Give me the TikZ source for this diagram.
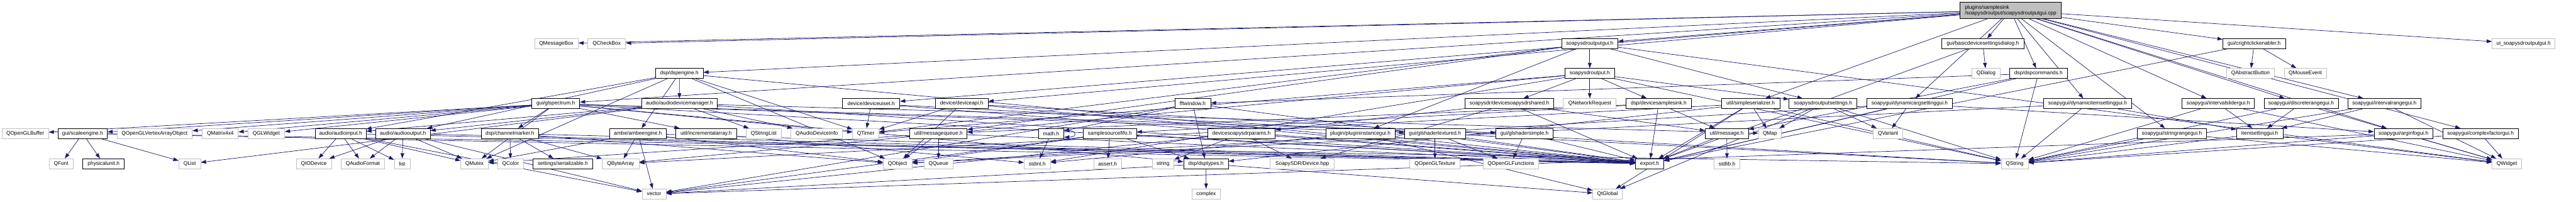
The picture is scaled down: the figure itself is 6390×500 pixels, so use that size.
\documentclass[tikz,border=0pt]{standalone}
\usepackage{fontspec}
\newfontfamily\dotfont{Liberation Sans}
\usetikzlibrary{arrows.meta,backgrounds}
\definecolor{edgeblue}{HTML}{191970}
\definecolor{extgray}{HTML}{BFBFBF}

\begin{document}
\begin{tikzpicture}[x=1pt,y=-1pt,
    hdr/.style={draw=black,fill=white,line width=1.1pt,minimum height=25pt,
      inner xsep=1pt,inner ysep=0pt,font=\dotfont\fontsize{13pt}{15pt}\selectfont},
    sys/.style={hdr,draw=extgray},
    inc/.style={edgeblue,line width=1.1pt,-{Triangle[length=13pt,width=9pt]}}]
    \useasboundingbox (0,0) rectangle (6390,500);

    % File itself
    \node[hdr,fill=extgray,align=left,minimum width=251pt,minimum height=40pt] (root) at (4987.5,26)
      {plugins/samplesink\\/soapysdroutput/soapysdroutputgui.cpp};

    % Row 1
    \node[sys,minimum width=108pt] (qmsgbox) at (1380,108) {QMessageBox};
    \node[sys,minimum width=94pt] (qcheckbox) at (1505,108) {QCheckBox};
    \node[hdr,minimum width=139pt] (outgui) at (3943.5,108) {soapysdroutputgui.h};
    \node[hdr,minimum width=203pt] (basicdlg) at (4918.5,108) {gui/basicdevicesettingsdialog.h};
    \node[hdr,minimum width=155pt] (crightclick) at (5591.5,108) {gui/crightclickenabler.h};
    \node[sys,minimum width=156pt] (uiout) at (6260,108) {ui\_soapysdroutputgui.h};

    % Row 2
    \node[hdr,minimum width=118pt] (dspengine) at (1685,182) {dsp/dspengine.h};
    \node[hdr,minimum width=123pt] (output) at (3943.5,182) {soapysdroutput.h};
    \node[sys,minimum width=69pt] (qdialog) at (4926.5,182) {QDialog};
    \node[hdr,minimum width=143pt] (dspcmds) at (5056.5,182) {dsp/dspcommands.h};
    \node[sys,minimum width=119pt] (qabsbutton) at (5582.5,182) {QAbstractButton};
    \node[sys,minimum width=105pt] (qmouseevent) at (5718.5,182) {QMouseEvent};

    % Row 3
    \node[hdr,minimum width=119pt] (glspectrum) at (1378.5,257) {gui/glspectrum.h};
    \node[hdr,minimum width=187pt] (audiodevmgr) at (1685.5,257) {audio/audiodevicemanager.h};
    \node[hdr,minimum width=142pt] (deviceuiset) at (2161,257) {device/deviceuiset.h};
    \node[hdr,minimum width=131pt] (deviceapi) at (2385.5,257) {device/deviceapi.h};
    \node[hdr,minimum width=89pt] (fftwindow) at (2958.5,257) {fftwindow.h};
    \node[hdr,minimum width=220pt] (soapyshared) at (3744,257) {soapysdr/devicesoapysdrshared.h};
    \node[sys,minimum width=131pt] (qnetreq) at (3943.5,257) {QNetworkRequest};
    \node[hdr,minimum width=163pt] (samplesink) at (4114.5,257) {dsp/devicesamplesink.h};
    \node[hdr,minimum width=145pt] (serializer) at (4342.5,257) {util/simpleserializer.h};
    \node[hdr,minimum width=168pt] (outsettings) at (4522,257) {soapysdroutputsettings.h};
    \node[hdr,minimum width=212pt] (dynargui) at (4737,257) {soapygui/dynamicargsettinggui.h};
    \node[hdr,minimum width=219pt] (dynitemgui) at (5178.5,257) {soapygui/dynamicitemsettinggui.h};
    \node[hdr,minimum width=179pt] (intslidergui) at (5502.5,257) {soapygui/intervalslidergui.h};
    \node[hdr,minimum width=184pt] (discretegui) at (5708,257) {soapygui/discreterangegui.h};
    \node[hdr,minimum width=181pt] (intrangegui) at (5914.5,257) {soapygui/intervalrangegui.h};

    % Row 4
    \node[sys,minimum width=115pt] (qglbuffer) at (62.5,331) {QOpenGLBuffer};
    \node[hdr,minimum width=122pt] (scaleengine) at (205,331) {gui/scaleengine.h};
    \node[sys,minimum width=187pt] (qglvao) at (383.5,331) {QOpenGLVertexArrayObject};
    \node[sys,minimum width=89pt] (qmatrix) at (546.5,331) {QMatrix4x4};
    \node[sys,minimum width=91pt] (qglwidget) at (660.5,331) {QGLWidget};
    \node[hdr,minimum width=126pt] (audioinput) at (845,331) {audio/audioinput.h};
    \node[hdr,minimum width=135pt] (audiooutput) at (999.5,331) {audio/audiooutput.h};
    \node[hdr,minimum width=142pt] (chanmarker) at (1265,331) {dsp/channelmarker.h};
    \node[hdr,minimum width=139pt] (ambeengine) at (1582.5,331) {ambe/ambeengine.h};
    \node[hdr,minimum width=151pt] (incarray) at (1751.5,331) {util/incrementalarray.h};
    \node[sys,minimum width=87pt] (qstringlist) at (1894.5,331) {QStringList};
    \node[sys,minimum width=128pt] (qaudiodevinfo) at (2026,331) {QAudioDeviceInfo};
    \node[sys,minimum width=65pt] (qtimer) at (2147.5,331) {QTimer};
    \node[hdr,minimum width=142pt] (msgqueue) at (2328,331) {util/messagequeue.h};
    \node[hdr,minimum width=63pt] (mathh) at (2607.5,331) {math.h};
    \node[hdr,minimum width=132pt] (samplefifo) at (2753,331) {samplesourcefifo.h};
    \node[hdr,minimum width=167pt] (soapyparams) at (3079.5,331) {devicesoapysdrparams.h};
    \node[hdr,minimum width=171pt] (plugingui) at (3374.5,331) {plugin/plugininstancegui.h};
    \node[hdr,minimum width=151pt] (shadertex) at (3559.5,331) {gui/glshadertextured.h};
    \node[hdr,minimum width=141pt] (shadersimple) at (3781.5,331) {gui/glshadersimple.h};
    \node[hdr,minimum width=107pt] (message) at (4283.5,331) {util/message.h};
    \node[sys,minimum width=57pt] (qmap) at (4390.5,331) {QMap};
    \node[sys,minimum width=73pt] (qvariant) at (4683.5,331) {QVariant};
    \node[hdr,minimum width=171pt] (strrangegui) at (5387.5,331) {soapygui/stringrangegui.h};
    \node[hdr,minimum width=115pt] (itemgui) at (5605.5,331) {itemsettinggui.h};
    \node[hdr,minimum width=146pt] (arginfogui) at (5962,331) {soapygui/arginfogui.h};
    \node[hdr,minimum width=188pt] (cplxgui) at (6153,331) {soapygui/complexfactorgui.h};

    % Row 5
    \node[sys,minimum width=59pt] (qfont) at (151.5,406) {QFont};
    \node[hdr,minimum width=103pt] (physunit) at (257,406) {physicalunit.h};
    \node[sys,minimum width=54pt] (qlist) at (470.5,406) {QList};
    \node[sys,minimum width=87pt] (qiodevice) at (778.5,406) {QIODevice};
    \node[sys,minimum width=107pt] (qaudioformat) at (900,406) {QAudioFormat};
    \node[sys,minimum width=39pt] (listh) at (997.5,406) {list};
    \node[sys,minimum width=68pt] (qmutex) at (1177,406) {QMutex};
    \node[sys,minimum width=63pt] (qcolor) at (1266.5,406) {QColor};
    \node[hdr,minimum width=148pt] (serializable) at (1396,406) {settings/serializable.h};
    \node[sys,minimum width=91pt] (qbytearray) at (1539.5,406) {QByteArray};
    \node[sys,minimum width=71pt] (qobject) at (2226.5,406) {QObject};
    \node[sys,minimum width=71pt] (qqueue) at (2328,406) {QQueue};
    \node[sys,minimum width=65pt] (stdinth) at (2573,406) {stdint.h};
    \node[sys,minimum width=69pt] (asserth) at (2747.5,406) {assert.h};
    \node[sys,minimum width=54pt] (stringh) at (2885,406) {string};
    \node[hdr,minimum width=111pt] (dsptypes) at (2991.5,406) {dsp/dsptypes.h};
    \node[sys,minimum width=159pt] (soapydevice) at (3230.5,406) {SoapySDR/Device.hpp};
    \node[sys,minimum width=125pt] (qgltexture) at (3559.5,406) {QOpenGLTexture};
    \node[sys,minimum width=138pt] (qglfunctions) at (3748,406) {QOpenGLFunctions};
    \node[hdr,minimum width=70pt] (exporth) at (4092,406) {export.h};
    \node[sys,minimum width=64pt] (stdlibh) at (4284,406) {stdlib.h};
    \node[sys,minimum width=67pt] (qstring) at (4997.5,406) {QString};
    \node[sys,minimum width=73pt] (qwidget) at (6218.5,406) {QWidget};

    % Row 6
    \node[sys,minimum width=59pt] (vectorh) at (1622.5,481) {vector};
    \node[sys,minimum width=70pt] (complexh) at (2992,481) {complex};
    \node[sys,minimum width=73pt] (qtglobal) at (3987.5,481) {QtGlobal};

    % Include edges
    \begin{scope}[on background layer]
      \foreach \t in {qmsgbox,qcheckbox,dspengine,glspectrum,deviceuiset,deviceapi,outgui,serializer,
          dynargui,basicdlg,dspcmds,dynitemgui,crightclick,strrangegui,intslidergui,discretegui,
          intrangegui,arginfogui,cplxgui,uiout}
        \draw[inc] (root) -- (\t);
      \foreach \t in {qtimer,plugingui,msgqueue,output,outsettings,qwidget}
        \draw[inc] (outgui) -- (\t);
      \foreach \t in {qbytearray,qstring,qtimer,stdinth,qnetreq,soapyshared,samplesink,outsettings}
        \draw[inc] (output) -- (\t);
      \foreach \t in {soapydevice,message,soapyparams,exporth}
        \draw[inc] (soapyshared) -- (\t);
      \foreach \t in {stringh,vectorh,soapydevice,exporth}
        \draw[inc] (soapyparams) -- (\t);
      \foreach \t in {samplefifo,message,msgqueue,exporth}
        \draw[inc] (samplesink) -- (\t);
      \foreach \t in {qobject,asserth,dsptypes,vectorh,exporth}
        \draw[inc] (samplefifo) -- (\t);
      \foreach \t in {complexh,vectorh,qtglobal}
        \draw[inc] (dsptypes) -- (\t);
      \foreach \t in {mathh,dsptypes,vectorh,exporth}
        \draw[inc] (fftwindow) -- (\t);
      \draw[inc] (mathh) -- (stdinth);
      \draw[inc] ([yshift=-4pt]mathh.north east) .. controls +(34pt,0pt) and +(34pt,0pt) .. ([yshift=4pt]mathh.south east);
      \foreach \t in {fftwindow,message,qstring,exporth}
        \draw[inc] (dspcmds) -- (\t);
      \foreach \t in {qdialog,exporth}
        \draw[inc] (basicdlg) -- (\t);
      \foreach \t in {qabsbutton,qmouseevent,exporth}
        \draw[inc] (crightclick) -- (\t);
      \foreach \t in {qbytearray,qmap,qstring,dsptypes,exporth,qtglobal}
        \draw[inc] (serializer) -- (\t);
      \foreach \t in {qmap,qvariant,qstring,qtglobal}
        \draw[inc] (outsettings) -- (\t);
      \foreach \t in {arginfogui,qvariant,qobject,exporth}
        \draw[inc] (dynargui) -- (\t);
      \foreach \t in {itemgui,qobject,qstring}
        \draw[inc] (dynitemgui) -- (\t);
      \foreach \s in {intslidergui,discretegui,intrangegui}
        \foreach \t in {itemgui,qwidget,qstring}
          \draw[inc] (\s) -- (\t);
      \foreach \s in {strrangegui,itemgui,cplxgui}
        \foreach \t in {qwidget,qstring}
          \draw[inc] (\s) -- (\t);
      \foreach \t in {qwidget,qstring,vectorh}
        \draw[inc] (arginfogui) -- (\t);
      \foreach \t in {stdlibh,exporth}
        \draw[inc] (message) -- (\t);
      \foreach \t in {qobject,qqueue,qmutex,exporth}
        \draw[inc] (msgqueue) -- (\t);
      \foreach \t in {qtimer,qstring,exporth}
        \draw[inc] (deviceuiset) -- (\t);
      \foreach \t in {qtimer,qobject,qstring,exporth}
        \draw[inc] (deviceapi) -- (\t);
      \foreach \t in {qtglobal,stdinth,exporth}
        \draw[inc] (plugingui) -- (\t);
      \foreach \t in {audiodevmgr,qtimer,qobject,qmutex,ambeengine,audioinput,audiooutput,exporth}
        \draw[inc] (dspengine) -- (\t);
      \foreach \t in {qstringlist,qaudiodevinfo,qlist,qmap,audioinput,audiooutput,exporth}
        \draw[inc] (audiodevmgr) -- (\t);
      \foreach \s in {audioinput,audiooutput}
        \foreach \t in {qmutex,qiodevice,qaudioformat,listh,vectorh,exporth}
          \draw[inc] (\s) -- (\t);
      \foreach \t in {qobject,qmutex,qbytearray,vectorh,exporth}
        \draw[inc] (ambeengine) -- (\t);
      \foreach \t in {qglbuffer,scaleengine,qglvao,qmatrix,qglwidget,qtimer,qmutex,chanmarker,
          incarray,shadersimple,shadertex,dsptypes,exporth}
        \draw[inc] (glspectrum) -- (\t);
      \foreach \t in {qfont,physunit,qlist,qstring,exporth}
        \draw[inc] (scaleengine) -- (\t);
      \foreach \t in {qobject,qcolor,serializable,qbytearray,exporth}
        \draw[inc] (chanmarker) -- (\t);
      \draw[inc] (incarray) -- (stdinth);
      \foreach \t in {qgltexture,qglfunctions,exporth}
        \draw[inc] (shadertex) -- (\t);
      \foreach \t in {qglfunctions,exporth}
        \draw[inc] (shadersimple) -- (\t);
    \end{scope}
  \end{tikzpicture}
\end{document}
